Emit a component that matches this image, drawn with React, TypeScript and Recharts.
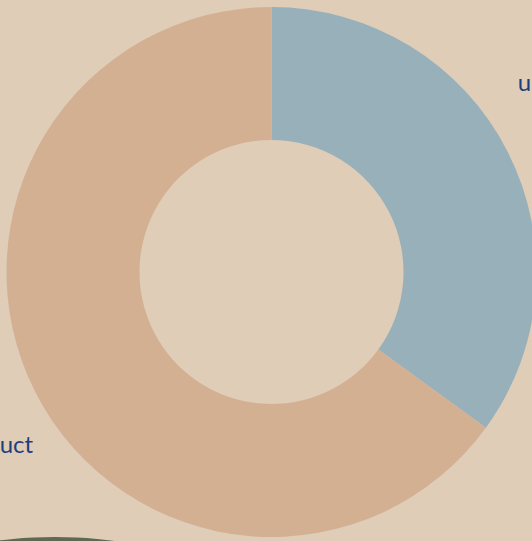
import React from "react";
import { PieChart, Pie, Cell } from "recharts";

const names = ["user", "Product"];
const values = [35, 65];
const colors = ["#97b0b9", "#d4b093"];

const data = names.map((name, i) => ({ name, value: values[i] }));

const RAD = Math.PI / 180;

const renderLabel = (props: any) => {
  const { cx, cy, midAngle, name } = props;
  const c = Math.cos(-midAngle * RAD);
  const s = Math.sin(-midAngle * RAD);
  const x = cx + 272 * c + 4;
  const y = cy + 398 * s;
  return (
    <text
      x={x}
      y={y}
      fill="#1f3f7c"
      fontSize={24}
      fontFamily="Lato, 'Noto Sans', sans-serif"
      textAnchor={c >= 0 ? "start" : "end"}
    >
      {name}
    </text>
  );
};

export default function App() {
  return (
    <div
      style={{
        position: "absolute",
        left: 0,
        top: 0,
        width: 532,
        height: 541,
        background: "#dfcdb8",
        overflow: "hidden",
      }}
    >
      <PieChart width={532} height={541} margin={{ top: 0, right: 0, bottom: 0, left: 0 }}>
        <Pie
          data={data}
          dataKey="value"
          nameKey="name"
          cx={271.5}
          cy={272}
          innerRadius={132}
          outerRadius={265}
          startAngle={90}
          endAngle={-270}
          stroke="none"
          labelLine={false}
          label={renderLabel}
          isAnimationActive={false}
        >
          {data.map((d, i) => (
            <Cell key={d.name} fill={colors[i]} />
          ))}
        </Pie>
      </PieChart>
      <div
        style={{
          position: "absolute",
          left: -55,
          top: 537,
          width: 220,
          height: 50,
          borderRadius: "50%",
          background: "#5e6a50",
        }}
      />
    </div>
  );
}
